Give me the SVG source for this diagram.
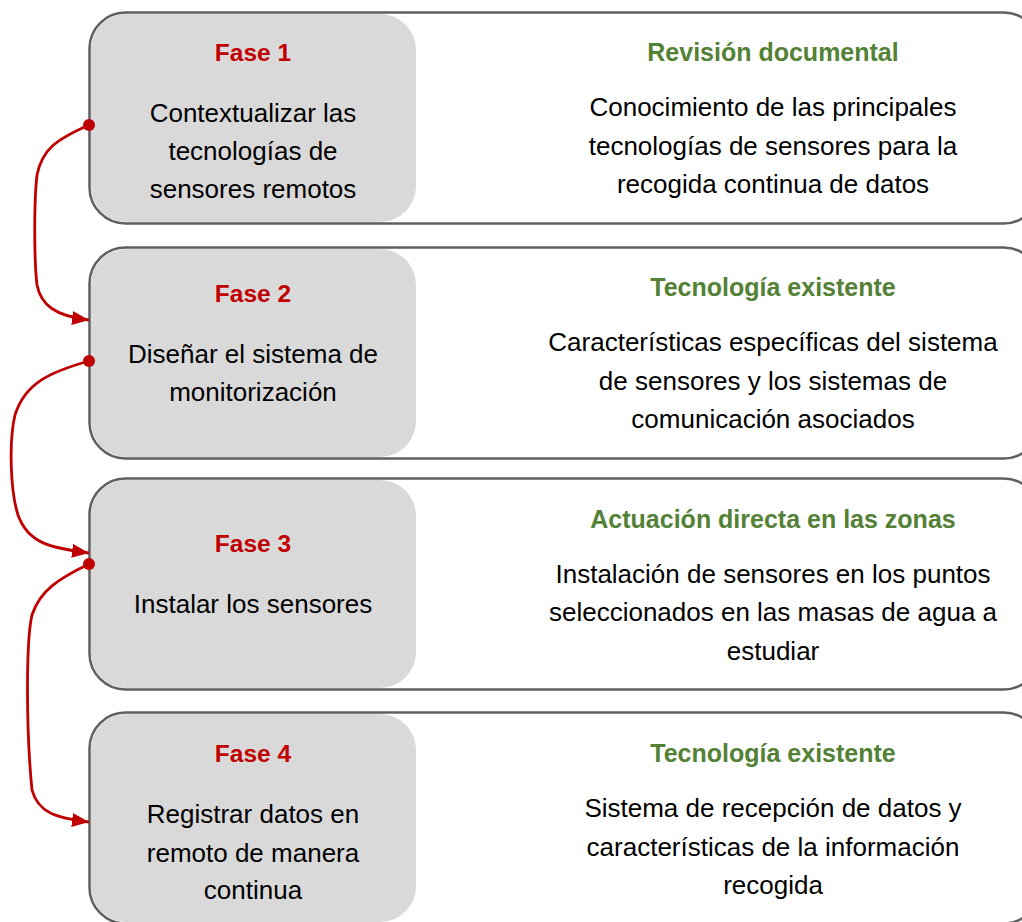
<svg xmlns="http://www.w3.org/2000/svg" width="1022" height="922" viewBox="0 0 1022 922">
<style>
.outer{fill:#ffffff;stroke:#5f5f5f;stroke-width:2.5}
.inner{fill:#d9d9d9}
.t{font-family:"Liberation Sans",Arial,sans-serif;font-size:26px;fill:#000;text-anchor:middle}
.fase{font-family:"Liberation Sans",Arial,sans-serif;font-size:24.5px;font-weight:bold;fill:#c00000;text-anchor:middle}
.head{font-family:"Liberation Sans",Arial,sans-serif;font-size:25px;font-weight:bold;fill:#538135;text-anchor:middle}
.conn{fill:none;stroke:#c00000;stroke-width:2.8}
</style>
<defs>
<marker id="arr" markerWidth="17" markerHeight="14" refX="17" refY="7" orient="auto" markerUnits="userSpaceOnUse">
<path d="M0,0 L17,7 L0,14 Z" fill="#c00000"/>
</marker>
</defs>
<g id="node1">
<rect class="outer" x="89.5" y="12.5" width="950" height="211" rx="36"/>
<path class="inner" d="M91,48 A35,35 0 0 1 126,14 L380,14 A36,36 0 0 1 416,50 L416,186 A36,36 0 0 1 380,222 L126,222 A35,35 0 0 1 91,187 Z"/>
<text class="fase" x="253" y="61">Fase 1</text>
<text class="t" x="253" y="122">Contextualizar las</text>
<text class="t" x="253" y="160">tecnologías de</text>
<text class="t" x="253" y="198">sensores remotos</text>
<text class="head" x="773" y="61">Revisión documental</text>
<text class="t" x="773" y="116">Conocimiento de las principales</text>
<text class="t" x="773" y="155">tecnologías de sensores para la</text>
<text class="t" x="773" y="193">recogida continua de datos</text>
</g>
<g id="node2">
<rect class="outer" x="89.5" y="247.5" width="950" height="211" rx="36"/>
<path class="inner" d="M91,283 A35,35 0 0 1 126,249 L380,249 A36,36 0 0 1 416,285 L416,421 A36,36 0 0 1 380,457 L126,457 A35,35 0 0 1 91,422 Z"/>
<text class="fase" x="253" y="302">Fase 2</text>
<text class="t" x="253" y="363">Diseñar el sistema de</text>
<text class="t" x="253" y="401">monitorización</text>
<text class="head" x="773" y="296">Tecnología existente</text>
<text class="t" x="773" y="351">Características específicas del sistema</text>
<text class="t" x="773" y="390">de sensores y los sistemas de</text>
<text class="t" x="773" y="428">comunicación asociados</text>
</g>
<g id="node3">
<rect class="outer" x="89.5" y="478.5" width="950" height="211" rx="36"/>
<path class="inner" d="M91,514 A35,35 0 0 1 126,480 L380,480 A36,36 0 0 1 416,516 L416,652 A36,36 0 0 1 380,688 L126,688 A35,35 0 0 1 91,653 Z"/>
<text class="fase" x="253" y="552">Fase 3</text>
<text class="t" x="253" y="613">Instalar los sensores</text>
<text class="head" x="773" y="528">Actuación directa en las zonas</text>
<text class="t" x="773" y="583">Instalación de sensores en los puntos</text>
<text class="t" x="773" y="621">seleccionados en las masas de agua a</text>
<text class="t" x="773" y="660">estudiar</text>
</g>
<g id="node4">
<rect class="outer" x="89.5" y="712.5" width="950" height="211" rx="36"/>
<path class="inner" d="M91,748 A35,35 0 0 1 126,714 L380,714 A36,36 0 0 1 416,750 L416,886 A36,36 0 0 1 380,922 L126,922 A35,35 0 0 1 91,887 Z"/>
<text class="fase" x="253" y="762">Fase 4</text>
<text class="t" x="253" y="823">Registrar datos en</text>
<text class="t" x="253" y="862">remoto de manera</text>
<text class="t" x="253" y="899">continua</text>
<text class="head" x="773" y="762">Tecnología existente</text>
<text class="t" x="773" y="817">Sistema de recepción de datos y</text>
<text class="t" x="773" y="856">características de la información</text>
<text class="t" x="773" y="894">recogida</text>
</g>
<g id="connectors">
<path class="conn" d="M89,125 C55,140 42,150 37,175 C34,200 34,260 37,285 C41,305 55,316 89,320" marker-end="url(#arr)"/>
<circle cx="89" cy="125" r="6" fill="#c00000"/>
<path class="conn" d="M89,361 C50,372 25,383 15,415 C9,440 10,490 18,515 C28,543 50,548 89,553" marker-end="url(#arr)"/>
<circle cx="89" cy="361" r="6" fill="#c00000"/>
<path class="conn" d="M89,564 C60,578 40,590 32,615 C26,640 26,730 32,790 C38,812 55,818 89,822" marker-end="url(#arr)"/>
<circle cx="89" cy="564" r="6" fill="#c00000"/>
</g>
</svg>
